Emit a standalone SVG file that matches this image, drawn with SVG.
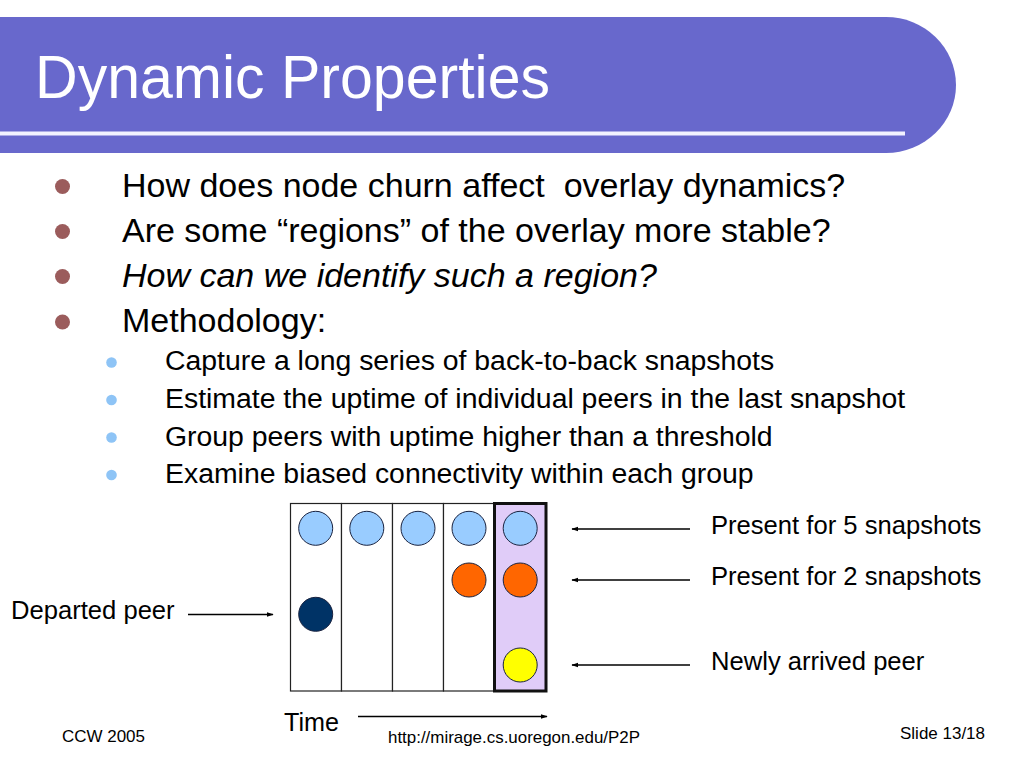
<svg xmlns="http://www.w3.org/2000/svg" width="1024" height="768" viewBox="0 0 1024 768">
  <style>
    text { font-family: "Liberation Sans", Arial, sans-serif; fill: #000; }
    .title { font-size: 61px; fill: #fff; }
    .main { font-size: 34px; }
    .sub { font-size: 28.4px; }
    .lbl { font-size: 25.6px; }
    .foot { font-size: 17px; }
    .col { fill: #fff; stroke: #222; stroke-width: 1.2; }
    .conn { stroke: #000; stroke-width: 1.4; fill: none; }
    .peer { stroke: #1a2340; stroke-width: 1; }
  </style>
  <defs>
    <marker id="ah" viewBox="0 0 10 10" refX="9" refY="5" markerWidth="7" markerHeight="7" orient="auto-start-reverse" markerUnits="userSpaceOnUse">
      <path d="M0,1.5 L10,5 L0,8.5 Z" fill="#000"/>
    </marker>
  </defs>
  <rect width="1024" height="768" fill="#fff"/>

  <g id="header">
    <path d="M0,17 H886 A70,68 0 0 1 886,153 H0 Z" fill="#6868CC"/>
    <rect x="0" y="131.5" width="905" height="4" fill="#F2F2FF"/>
    <text class="title" x="35" y="98" textLength="515" lengthAdjust="spacingAndGlyphs">Dynamic Properties</text>
  </g>

  <g id="bullets">
    <g fill="#9B5C5C">
      <circle cx="62.5" cy="186.5" r="7.5"/>
      <circle cx="62.5" cy="231.5" r="7.5"/>
      <circle cx="62.5" cy="276.5" r="7.5"/>
      <circle cx="62.5" cy="322" r="7.5"/>
    </g>
    <text class="main" x="122" y="197" style="white-space:pre" xml:space="preserve">How does node churn affect  overlay dynamics?</text>
    <text class="main" x="122" y="242">Are some “regions” of the overlay more stable?</text>
    <text class="main" x="122" y="287" font-style="italic">How can we identify such a region?</text>
    <text class="main" x="122" y="332">Methodology:</text>
    <g fill="#8EC4F6">
      <circle cx="111.5" cy="362.5" r="5.3"/>
      <circle cx="111.5" cy="400" r="5.3"/>
      <circle cx="111.5" cy="437.5" r="5.3"/>
      <circle cx="111.5" cy="475" r="5.3"/>
    </g>
    <text class="sub" x="165" y="370">Capture a long series of back-to-back snapshots</text>
    <text class="sub" x="165" y="408">Estimate the uptime of individual peers in the last snapshot</text>
    <text class="sub" x="165" y="446">Group peers with uptime higher than a threshold</text>
    <text class="sub" x="165" y="483">Examine biased connectivity within each group</text>
  </g>

  <g id="snapshots">
    <rect class="col" x="290.5" y="503.5" width="51" height="187.5"/>
    <rect class="col" x="341.5" y="503.5" width="51" height="187.5"/>
    <rect class="col" x="392.5" y="503.5" width="51" height="187.5"/>
    <rect class="col" x="443.5" y="503.5" width="51" height="187.5"/>
    <rect id="last-snapshot" x="494.5" y="503.5" width="51.5" height="187.5" fill="#E0CCF8" stroke="#111" stroke-width="3"/>
  </g>

  <g id="peers">
    <g fill="#99CCFF">
      <circle class="peer" cx="315.7" cy="528.3" r="17"/>
      <circle class="peer" cx="366.8" cy="528.3" r="17"/>
      <circle class="peer" cx="418" cy="528.3" r="17"/>
      <circle class="peer" cx="469" cy="528.3" r="17"/>
      <circle class="peer" cx="520.2" cy="528.3" r="17"/>
    </g>
    <circle class="peer" cx="469" cy="580" r="17" fill="#FF6600"/>
    <circle class="peer" cx="520.2" cy="580" r="17" fill="#FF6600"/>
    <circle class="peer" cx="315.7" cy="614.3" r="17" fill="#003366"/>
    <circle class="peer" cx="520.2" cy="665" r="17" fill="#FFFF00"/>
  </g>

  <g id="connectors">
    <line class="conn" x1="690" y1="529" x2="572" y2="529" marker-end="url(#ah)"/>
    <line class="conn" x1="690" y1="580" x2="572" y2="580" marker-end="url(#ah)"/>
    <line class="conn" x1="690" y1="665" x2="572" y2="665" marker-end="url(#ah)"/>
    <line class="conn" x1="188" y1="614.5" x2="273" y2="614.5" marker-end="url(#ah)"/>
    <line class="conn" x1="358" y1="716.5" x2="547" y2="716.5" marker-end="url(#ah)"/>
  </g>

  <g id="labels">
    <text class="lbl" x="711" y="534">Present for 5 snapshots</text>
    <text class="lbl" x="711" y="585">Present for 2 snapshots</text>
    <text class="lbl" x="711" y="670">Newly arrived peer</text>
    <text class="lbl" x="11" y="619">Departed peer</text>
    <text class="lbl" x="284" y="731" textLength="55" lengthAdjust="spacingAndGlyphs">Time</text>
  </g>

  <g id="footer">
    <text class="foot" x="62" y="742" textLength="83" lengthAdjust="spacingAndGlyphs">CCW 2005</text>
    <text class="foot" x="388" y="743" textLength="252" lengthAdjust="spacingAndGlyphs">http://mirage.cs.uoregon.edu/P2P</text>
    <text class="foot" x="900" y="739" textLength="85" lengthAdjust="spacingAndGlyphs">Slide 13/18</text>
  </g>
</svg>
